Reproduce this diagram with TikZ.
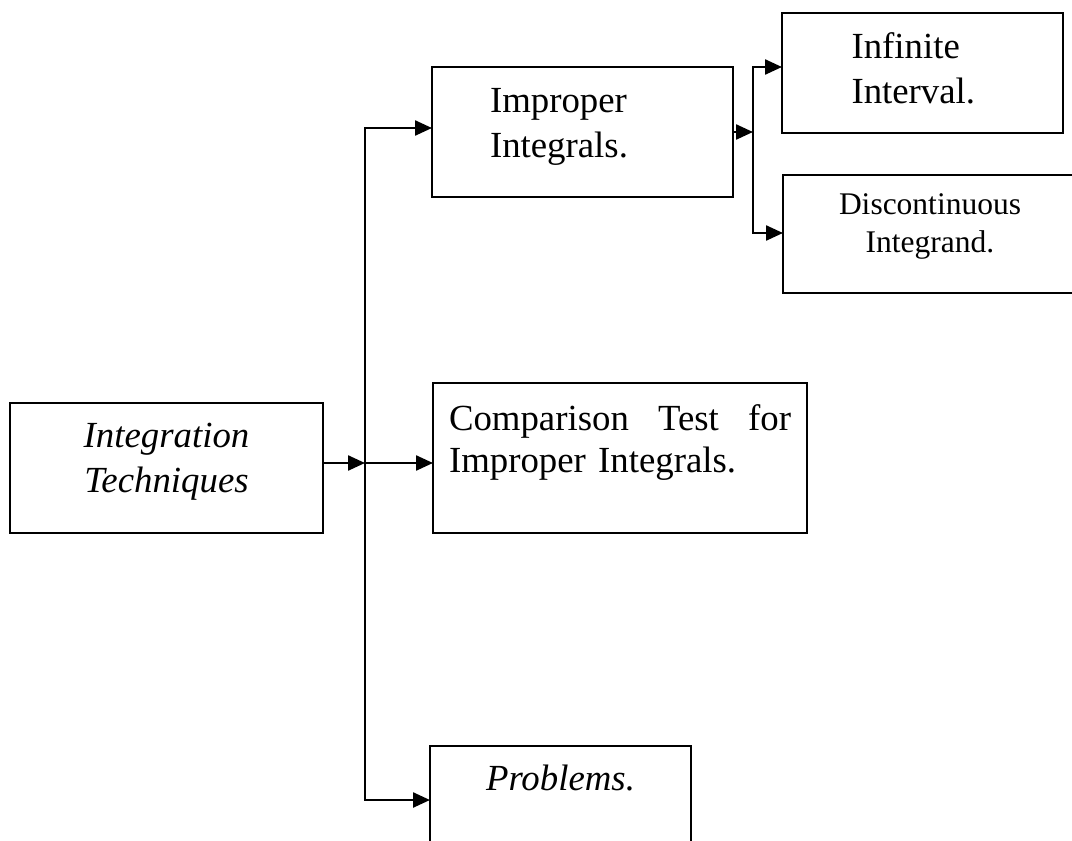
\documentclass[tikz,border=0pt]{standalone}
\usepackage{fontspec}
\setmainfont{Liberation Serif}
\usetikzlibrary{arrows.meta}
\tikzset{
  box/.style={draw, line width=1pt, outer sep=0pt, inner ysep=2pt,
    font=\fontsize{18.4pt}{22.5pt}\selectfont},
  arr/.style={line width=1.2pt, -{Triangle[length=8.5pt,width=7.5pt]}}
}
\begin{document}
\begin{tikzpicture}[x=0.5pt,y=-0.5pt]
  \useasboundingbox (0,0) rectangle (1072,841);
  \clip (0,0) rectangle (1072,841);
  % boxes
  \node[box, minimum width=156.5pt, minimum height=65pt, text width=100pt, align=center,
    text depth=33pt, font=\fontsize{18.4pt}{22.5pt}\selectfont\itshape] (intg) at (166.5,468) {Integration\\Techniques};
  \node[box, minimum width=150.5pt, minimum height=65pt, inner xsep=29pt, text width=92.5pt,
    align=left, text depth=32pt] (impr) at (582.5,132) {Improper\\Integrals.};
  \node[box, minimum width=140.5pt, minimum height=60pt, inner xsep=34.5pt, text width=71pt,
    align=left, text depth=27.5pt] (infi) at (922.5,73) {Infinite\\Interval.};
  \node[box, minimum width=147pt, minimum height=59pt, text width=100pt, align=center,
    text depth=29.75pt, font=\fontsize{15.75pt}{19pt}\selectfont] (disc) at (930,234) {Discontinuous\\Integrand.};
  \node[box, minimum width=187pt, minimum height=75pt, inner xsep=8pt, text width=171pt,
    align=left, text depth=40.5pt, font=\fontsize{18.4pt}{21pt}\selectfont] (cmp) at (620,458) {Comparison\hfill Test\hfill for\\Improper Integrals.};
  \node[box, minimum width=130.5pt, minimum height=65pt, text depth=33.5pt,
    font=\fontsize{18.4pt}{22.5pt}\selectfont\itshape] (prob) at (560.5,811) {Problems.};
  % trunk and branches
  \coordinate (tk1) at (365,128);
  \coordinate (tkm) at (365,463);
  \coordinate (tk2) at (365,800);
  \coordinate (br1) at (753,67);
  \coordinate (brm) at (753,132);
  \coordinate (br2) at (753,233);
  \draw[arr] (intg.east |- tkm) -- (tkm);
  \draw[arr] (tkm) |- (impr.west |- tk1);
  \draw[arr] (tkm) -- (cmp.west |- tkm);
  \draw[arr] (tkm) |- (prob.west |- tk2);
  \draw[arr] (impr.east) -- (brm);
  \draw[arr] (brm) |- (infi.west |- br1);
  \draw[arr] (brm) |- (disc.west |- br2);
\end{tikzpicture}
\end{document}
